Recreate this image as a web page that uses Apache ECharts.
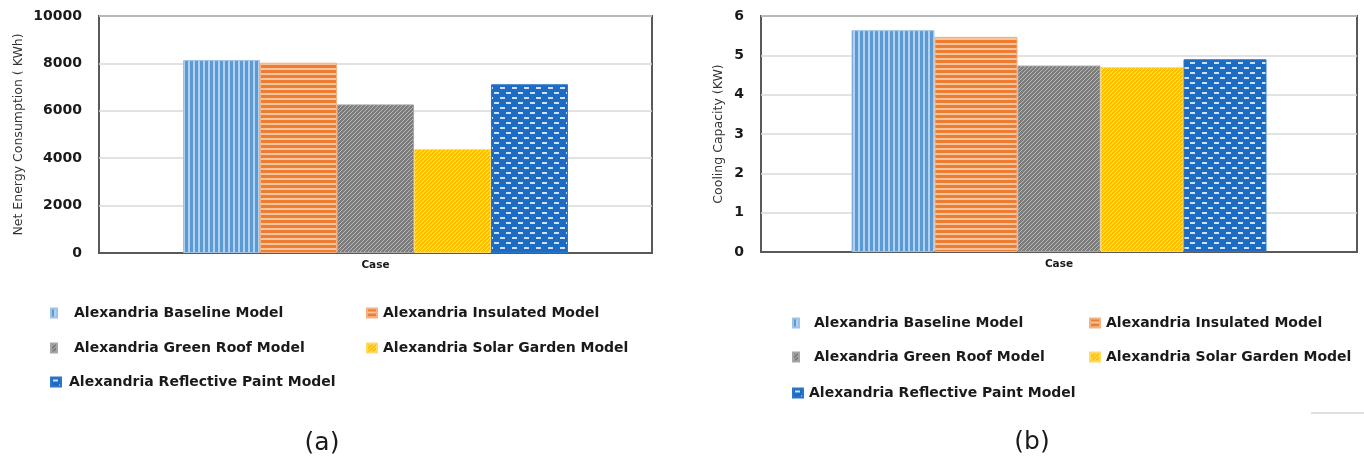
<!DOCTYPE html>
<html>
<head>
<meta charset="utf-8">
<script src="https://cdn.jsdelivr.net/npm/echarts@6/dist/echarts.min.js"></script>
<style>
  html, body { margin: 0; padding: 0; background: #ffffff; }
  #chart { width: 1364px; height: 461px; }
</style>
</head>
<body>
<div id="chart"></div>
<script>
// ---- data ----
const categories = ['Case'];
const seriesNames = [
  'Alexandria Baseline Model',
  'Alexandria Insulated Model',
  'Alexandria Green Roof Model',
  'Alexandria Solar Garden Model',
  'Alexandria Reflective Paint Model'
];
const energyValues = [8140, 8030, 6270, 4390, 7120];   // kWh
const coolingValues = [5.64, 5.47, 4.74, 4.70, 4.90];  // kW
const energyAxis = { min: 0, max: 10000, interval: 2000 };
const coolingAxis = { min: 0, max: 6, interval: 1 };
const energyAxisTitle = 'Net Energy Consumption ( KWh)';
const coolingAxisTitle = 'Cooling Capacity (KW)';
const panelCaptions = ['(a)', '(b)'];

// ---- fill patterns ----
function tile(w, h, draw) {
  const c = document.createElement('canvas');
  c.width = w; c.height = h;
  draw(c.getContext('2d'), w, h);
  return { image: c, repeat: 'repeat' };
}
function diagonal(base, line) {
  return tile(4, 4, (g, w, h) => {
    g.fillStyle = base; g.fillRect(0, 0, w, h);
    g.fillStyle = line;
    for (let i = 0; i < 4; i++) g.fillRect(i, 3 - i, 1, 1);
  });
}
const fills = [
  // vertical stripes
  tile(5, 4, (g, w, h) => {
    g.fillStyle = '#b3d0ef'; g.fillRect(0, 0, w, h);
    g.fillStyle = '#5b9bd5'; g.fillRect(0, 0, 3, h);
  }),
  // horizontal stripes
  tile(4, 5, (g, w, h) => {
    g.fillStyle = '#ed7d31'; g.fillRect(0, 0, w, h);
    g.fillStyle = '#f7c4a0'; g.fillRect(0, 3, w, 2);
  }),
  diagonal('#7c7c7c', '#b8b8b8'),
  diagonal('#ffc000', '#ffe287'),
  // dashes on blue
  tile(12, 10, (g, w, h) => {
    g.fillStyle = '#1c6cc4'; g.fillRect(0, 0, w, h);
    g.fillStyle = '#cfe0f5';
    g.fillRect(2, 2, 5, 2);
    g.fillRect(8, 7, 5, 2);
    g.fillRect(-4, 7, 5, 2);
  })
];
const borders = ['#9dc3e6', '#f4b183', '#a6a6a6', '#ffd966', '#2e75c6'];

const FONT = 'DejaVu Sans';
const TEXT = '#1a1a1a';

// ---- layout of the two panels ----
const panels = [
  { grid: { left: 99, top: 16, width: 553, height: 237 }, values: energyValues, axis: energyAxis,
    title: energyAxisTitle, nameGap: 74, barWidth: 77,
    legend: [[50, 313, 6, 12], [366, 313, 10, 1], [50, 348, 6, 12], [366, 348, 10, 1], [50, 382, 10, 3]] },
  { grid: { left: 761, top: 16, width: 596, height: 236 }, values: coolingValues, axis: coolingAxis,
    title: coolingAxisTitle, nameGap: 36, barWidth: 83,
    legend: [[792, 323, 6, 10], [1089, 323, 10, 1], [792, 357, 6, 10], [1089, 357, 10, 1], [792, 393, 10, 1]] }
];

const grid = [], xAxis = [], yAxis = [], series = [], legend = [];
panels.forEach((p, k) => {
  grid.push(Object.assign({
    show: true, borderColor: '#595959', borderWidth: 2, backgroundColor: '#ffffff',
    outerBoundsMode: 'none'
  }, p.grid));
  xAxis.push({
    type: 'category', gridIndex: k, data: categories,
    axisLine: { lineStyle: { color: '#595959', width: 2 } },
    axisTick: { show: false },
    axisLabel: { fontFamily: FONT, fontWeight: 'bold', fontSize: 10.5, color: TEXT, margin: 7 }
  });
  yAxis.push({
    type: 'value', gridIndex: k,
    min: p.axis.min, max: p.axis.max, interval: p.axis.interval,
    name: p.title, nameLocation: 'middle', nameRotate: 90, nameGap: p.nameGap,
    nameTextStyle: { fontFamily: FONT, fontSize: 12.5, color: '#333333' },
    axisLine: { show: false }, axisTick: { show: false },
    axisLabel: { fontFamily: FONT, fontWeight: 'bold', fontSize: 14, color: TEXT, margin: 17,
      formatter: v => String(v) },
    splitLine: { lineStyle: { color: '#d9d9d9', width: 1.5 } }
  });
  seriesNames.forEach((name, i) => {
    series.push({
      type: 'bar', name: name, xAxisIndex: k, yAxisIndex: k,
      data: [p.values[i]], barWidth: p.barWidth, barGap: '0%',
      itemStyle: { color: fills[i], borderColor: borders[i], borderWidth: 1 },
      emphasis: { disabled: true }
    });
    const [x, cy, w, pad] = p.legend[i];
    legend.push({
      data: [name], left: x, top: cy - 8, padding: 0, itemGap: 0,
      itemWidth: w, itemHeight: 9, icon: 'rect', selectedMode: false,
      formatter: n => '{g|}' + n,
      textStyle: {
        fontFamily: FONT, fontWeight: 'bold', fontSize: 14, color: TEXT, lineHeight: 16,
        rich: { g: { width: pad, lineHeight: 16 } }
      }
    });
  });
});

const chart = echarts.init(document.getElementById('chart'), null, { renderer: 'canvas' });
chart.setOption({
  animation: false,
  backgroundColor: '#ffffff',
  grid, xAxis, yAxis, series, legend,
  graphic: [
    { type: 'text', x: 322, y: 443, style: { text: panelCaptions[0], fontFamily: FONT, fontSize: 25,
      fill: TEXT, textAlign: 'center', textVerticalAlign: 'middle' } },
    { type: 'text', x: 1032, y: 442, style: { text: panelCaptions[1], fontFamily: FONT, fontSize: 25,
      fill: TEXT, textAlign: 'center', textVerticalAlign: 'middle' } },
    { type: 'line', shape: { x1: 1311, y1: 413, x2: 1364, y2: 413 },
      style: { stroke: '#bfbfbf', lineWidth: 1 } }
  ]
});
</script>
</body>
</html>
